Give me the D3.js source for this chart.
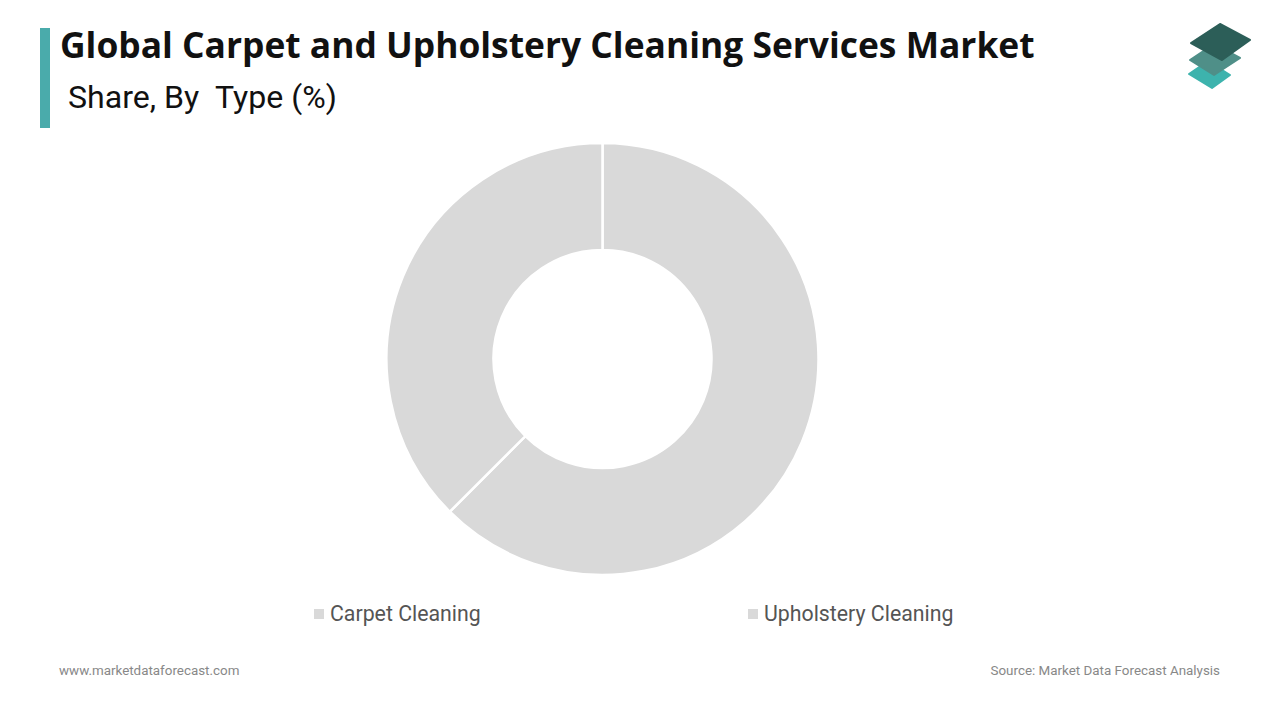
<!DOCTYPE html>
<html>
<head>
<meta charset="utf-8">
<script src="https://cdn.jsdelivr.net/npm/d3@7"></script>
<style>
  html, body { margin: 0; padding: 0; background: #fff; }
  svg { display: block; }
</style>
</head>
<body>
<svg id="chart" width="1280" height="720"></svg>
<script>
const categories = ["Carpet Cleaning", "Upholstery Cleaning"];
const shares = [62.5, 37.5];
const sliceColors = ["#d9d9d9", "#d9d9d9"];
const titleText = "Global Carpet and Upholstery Cleaning Services Market";
const subtitleText = "Share, By\u00a0\u00a0Type (%)";
const footerLeft = "www.marketdataforecast.com";
const footerRight = "Source: Market Data Forecast Analysis";

const svg = d3.select("#chart");

function fitText(sel, target) {
  const w = sel.node().getComputedTextLength();
  const fs = parseFloat(sel.attr("font-size"));
  sel.attr("font-size", fs * target / w);
}

// accent bar
svg.append("rect").attr("x", 40).attr("y", 28).attr("width", 10).attr("height", 100).attr("fill", "#4aabab");

const title = svg.append("text").attr("x", 60).attr("y", 58)
  .attr("font-family", "'Open Sans', sans-serif").attr("font-weight", 700)
  .attr("font-size", 30).attr("fill", "#111").text(titleText);
fitText(title, 975);

const sub = svg.append("text").attr("x", 68).attr("y", 108)
  .attr("font-family", "Roboto, sans-serif").attr("font-size", 27)
  .attr("fill", "#111").text(subtitleText);
fitText(sub, 269);

// logo
const logo = svg.append("g");
const diamonds = [
  {pts: [[1208, 61], [1230, 75], [1212, 88], [1189, 74]], c: "#3db3ad"},
  {pts: [[1214, 44], [1240, 58], [1214, 75], [1190, 60]], c: "#4f8f88"},
  {pts: [[1220, 24], [1250, 40], [1222, 60], [1191, 43]], c: "#2c5e58"}
];
diamonds.forEach(d => {
  logo.append("path")
    .attr("d", d3.line()(d.pts) + "Z")
    .attr("fill", d.c).attr("stroke", d.c).attr("stroke-width", 2).attr("stroke-linejoin", "round");
});

// donut
const cx = 602.5, cy = 359, rOuter = 216, rInner = 109;
const pie = d3.pie().sort(null).value(d => d);
const arc = d3.arc().innerRadius(rInner).outerRadius(rOuter);
const g = svg.append("g").attr("transform", `translate(${cx},${cy})`);
g.selectAll("path").data(pie(shares)).join("path")
  .attr("d", arc)
  .attr("fill", (d, i) => sliceColors[i])
  .attr("stroke", "#fff").attr("stroke-width", 2.5);

// legend
const legendX = d3.scalePoint().domain(categories).range([314, 748]);
const lg = svg.append("g");
categories.forEach((c, i) => {
  const x = legendX(c);
  lg.append("rect").attr("x", x).attr("y", 609).attr("width", 10).attr("height", 10).attr("fill", sliceColors[i]);
  lg.append("text").attr("x", x + 16).attr("y", 621)
    .attr("font-family", "Roboto, sans-serif").attr("font-size", 21.3)
    .attr("fill", "#555").text(c);
});

// footer
svg.append("text").attr("x", 59).attr("y", 675)
  .attr("font-family", "Roboto, sans-serif").attr("font-size", 13.4).attr("fill", "#888").text(footerLeft);
svg.append("text").attr("x", 1220).attr("y", 675).attr("text-anchor", "end")
  .attr("font-family", "Roboto, sans-serif").attr("font-size", 13.4).attr("fill", "#888").text(footerRight);
</script>
</body>
</html>
